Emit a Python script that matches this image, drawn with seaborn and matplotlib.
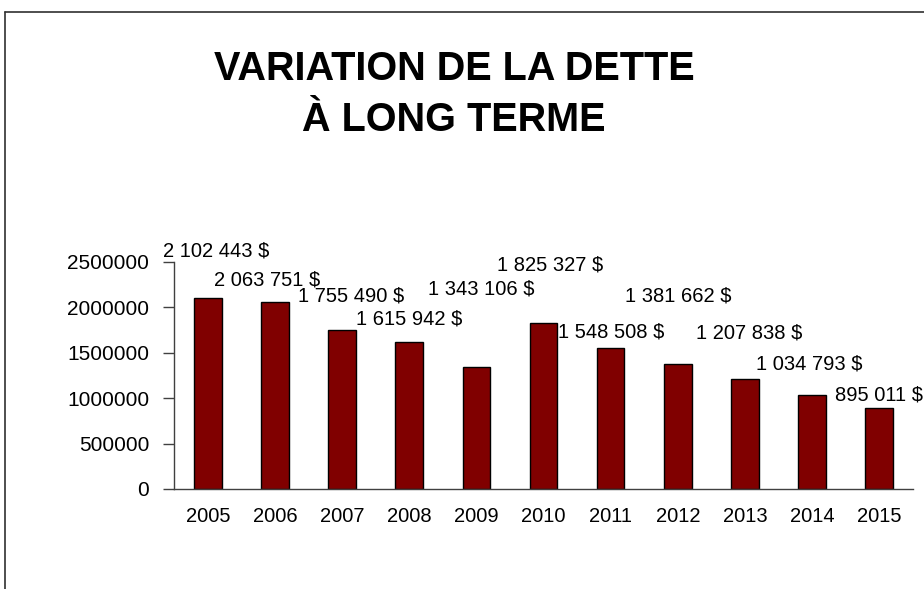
import matplotlib
matplotlib.use("Agg")
import matplotlib.pyplot as plt
import seaborn as sns
import pandas as pd
from matplotlib.lines import Line2D

# ---- data ----
years = ["2005", "2006", "2007", "2008", "2009", "2010", "2011", "2012", "2013", "2014", "2015"]
dette = [2102443, 2063751, 1755490, 1615942, 1343106, 1825327, 1548508, 1381662, 1207838, 1034793, 895011]
y_ticks = [0, 500000, 1000000, 1500000, 2000000, 2500000]
title_lines = ["VARIATION DE LA DETTE", "À LONG TERME"]

# label placement offsets (pixels) relative to bar top centre, as in the original
label_dx = [8, -8, 9, 0, 5, 7, 1, 0, 4, -3, 0]
label_dy = [47, 22, 34, 23, 78, 58, 16, 68, 46, 31, 13]

sns.set_style("white")
plt.rcParams["font.family"] = ["Liberation Sans", "DejaVu Sans"]
plt.rcParams["text.color"] = "black"
plt.rcParams["axes.labelcolor"] = "black"
plt.rcParams["xtick.color"] = "black"
plt.rcParams["ytick.color"] = "black"

df = pd.DataFrame({"year": years, "value": dette})

fig = plt.figure(figsize=(9.24, 5.89), dpi=100)
ax = fig.add_axes([0.1886, 0.1698, 0.9878 - 0.1886, 0.5552 - 0.1698])

sns.barplot(data=df, x="year", y="value", color="#800000", edgecolor="black",
            linewidth=1.0, width=0.41, saturation=1, ax=ax)

ax.set_ylim(0, 2500000)
ax.set_xlim(-0.5, len(years) - 0.5)
ax.set_yticks(y_ticks)
ax.set_yticklabels([str(t) for t in y_ticks], fontsize=15)
ax.set_xticks(range(len(years)))
ax.set_xticklabels(years, fontsize=14.5)
ax.set_xlabel("")
ax.set_ylabel("")

# category boundary ticks on x axis
ax.set_xticks([i - 0.5 for i in range(len(years) + 1)], minor=True)
ax.tick_params(axis="x", which="major", length=0, pad=13, labelcolor="black")
ax.tick_params(axis="x", which="minor", length=6, width=1, direction="out", color="#404040")
ax.tick_params(axis="y", which="major", length=8, width=1, direction="out", pad=10,
               color="#404040", labelcolor="black", left=True)

for s in ["top", "right"]:
    ax.spines[s].set_visible(False)
for s in ["left", "bottom"]:
    ax.spines[s].set_color("#404040")
    ax.spines[s].set_linewidth(1.0)

# data labels
def fmt(v):
    return "{:,}".format(v).replace(",", " ") + " $"

for i, v in enumerate(dette):
    ax.annotate(fmt(v), xy=(i, v), xytext=(label_dx[i], label_dy[i]),
                textcoords="offset pixels", ha="center", va="center",
                fontsize=14.5, color="black", annotation_clip=False, clip_on=False)

# title
fig.text(0.4915, 1 - 80 / 589, title_lines[0], ha="center", va="baseline",
         fontsize=28.5, fontweight="bold", color="black")
fig.text(0.4915, 1 - 130.7 / 589, title_lines[1], ha="center", va="baseline",
         fontsize=28.5, fontweight="bold", color="black")

# chart-area border (top and left visible)
fig.add_artist(Line2D([5 / 924, 1.0], [1 - 12 / 589, 1 - 12 / 589],
                      transform=fig.transFigure, color="#303030", linewidth=1.2))
fig.add_artist(Line2D([5 / 924, 5 / 924], [0.0, 1 - 12 / 589],
                      transform=fig.transFigure, color="#303030", linewidth=1.2))

fig.savefig("out.png", dpi=100)
